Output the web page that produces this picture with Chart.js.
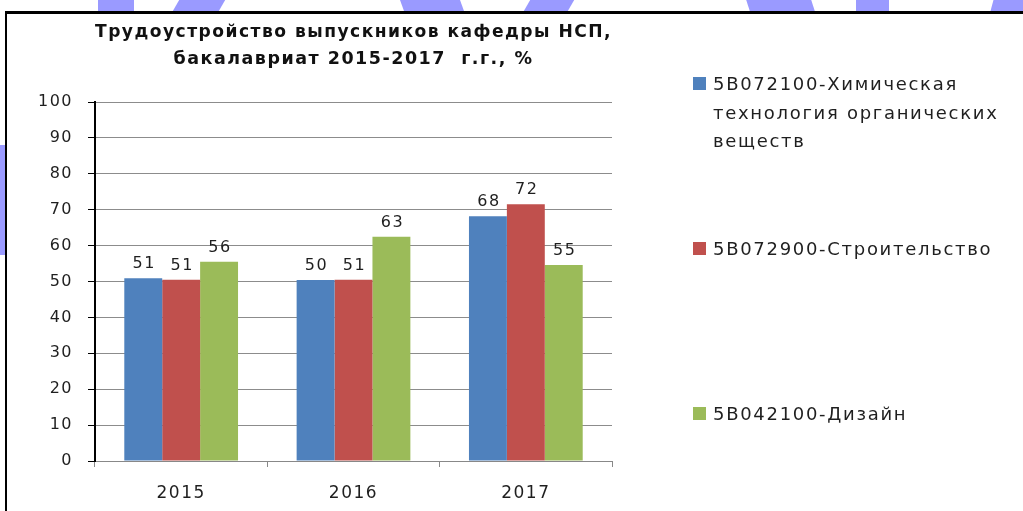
<!DOCTYPE html>
<html lang="ru">
<head>
  <meta charset="UTF-8" />
  <title>Трудоустройство выпускников кафедры НСП</title>
  <script src="https://cdn.jsdelivr.net/npm/chart.js"></script>
  <style>
    body {
      margin: 0;
      width: 1023px;
      height: 511px;
      overflow: hidden;
      background: #fff;
      position: relative;
      font-family: "DejaVu Sans", sans-serif;
    }

    .strip {
      position: absolute;
      left: 0;
      top: 0;
      width: 1023px;
      height: 11px;
      overflow: hidden;
    }

    .mark {
      position: absolute;
      top: 0;
      height: 11px;
      background: #9a9aff;
    }

    .side {
      position: absolute;
      left: 0;
      top: 145px;
      width: 5px;
      height: 110px;
      background: #9a9aff;
    }

    .frame {
      position: absolute;
      left: 5px;
      top: 11px;
      width: 1018px;
      height: 500px;
      box-sizing: border-box;
      background: #fff;
      border-top: 3px solid #000;
      border-left: 2px solid #000;
    }

    #wrap {
      position: absolute;
      left: 0;
      top: 0;
      width: 1023px;
      height: 511px;
    }

    .legend-item {
      position: absolute;
      left: 693px;
      display: flex;
      align-items: flex-start;
      font-size: 18px;
      line-height: 28.5px;
      letter-spacing: 1.7px;
      color: #1f1f1f;
    }

    .legend-item .box {
      width: 13px;
      height: 13px;
      margin-top: 7px;
      margin-right: 7px;
      flex: none;
    }

    .legend-item .txt {
      width: 305px;
    }
  </style>
</head>
<body>
  <!-- watermark bits peeking out above and left of the frame -->
  <div class="strip">
    <div class="mark" style="left:98px;width:36px"></div>
    <div class="mark" style="left:176px;width:46px;transform:skewX(-30deg)"></div>
    <div class="mark" style="left:402px;width:60px;transform:skewX(20deg)"></div>
    <div class="mark" style="left:527px;width:44px;transform:skewX(-30deg)"></div>
    <div class="mark" style="left:748px;width:65px;transform:skewX(18deg)"></div>
    <div class="mark" style="left:856px;width:33px"></div>
    <div class="mark" style="left:992px;width:40px;transform:skewX(-15deg)"></div>
  </div>
  <div class="side"></div>

  <div class="frame"></div>

  <div id="wrap">
    <canvas id="chart" width="1023" height="511"></canvas>
  </div>
  <div id="legend"></div>

  <script>
    const categories = ['2015', '2016', '2017'];
    const seriesNames = [
      '5B072100-Химическая технология органических веществ',
      '5B072900-Строительство',
      '5B042100-Дизайн'
    ];
    const chemValues = [50.9, 50.4, 68.2];
    const buildValues = [50.5, 50.5, 71.5];
    const designValues = [55.5, 62.5, 54.6];
    const seriesColors = ['#4f81bd', '#c0504d', '#9bbb59'];
    const titleLines = ['Трудоустройство выпускников кафедры НСП,', 'бакалавриат 2015-2017  г.г., %'];
    const yMin = 0;
    const yMax = 100;
    const yStep = 10;

    // the source picture is slightly stretched sideways, so space the letters out a bit
    const spacing = {
      id: 'spacing',
      beforeDraw(chart) { chart.ctx.letterSpacing = '1.5px'; }
    };

    // value labels above the bars
    const barLabels = {
      id: 'barLabels',
      afterDatasetsDraw(chart) {
        const ctx = chart.ctx;
        ctx.save();
        ctx.letterSpacing = '1.6px';
        ctx.font = '16px "DejaVu Sans"';
        ctx.fillStyle = '#1f1f1f';
        ctx.textAlign = 'center';
        ctx.textBaseline = 'middle';
        chart.data.datasets.forEach((ds, i) => {
          chart.getDatasetMeta(i).data.forEach((bar, j) => {
            ctx.fillText(String(Math.round(ds.data[j])), bar.x + 1, bar.y - 14);
          });
        });
        ctx.restore();
      }
    };

    const chart = new Chart(document.getElementById('chart'), {
      type: 'bar',
      data: {
        labels: categories,
        datasets: [chemValues, buildValues, designValues].map((vals, i) => ({
          label: seriesNames[i],
          data: vals,
          backgroundColor: seriesColors[i],
          borderWidth: 0,
          barPercentage: 1,
          categoryPercentage: 0.66
        }))
      },
      options: {
        responsive: false,
        animation: false,
        layout: { padding: { top: 19, left: 0, right: 411, bottom: 0 } },
        plugins: {
          legend: { display: false },
          tooltip: { enabled: false },
          title: {
            display: true,
            fullSize: false,
            text: titleLines,
            color: '#111',
            font: { family: 'DejaVu Sans', size: 17.5, weight: 'bold', lineHeight: 1.55 },
            padding: { top: 0, bottom: 28.75 }
          }
        },
        scales: {
          x: {
            afterFit: s => { s.height = 50; },
            grid: {
              offset: true,
              drawOnChartArea: false,
              color: '#888',
              tickLength: 6
            },
            border: { color: '#888', width: 1 },
            ticks: {
              color: '#1f1f1f',
              padding: 16,
              font: { family: 'DejaVu Sans', size: 17 }
            }
          },
          y: {
            min: yMin,
            max: yMax,
            afterFit: s => { s.width = 95; },
            grid: {
              color: '#8c8c8c',
              tickColor: '#000',
              tickLength: 7
            },
            border: { color: '#000', width: 2 },
            ticks: {
              stepSize: yStep,
              color: '#1f1f1f',
              padding: 15,
              font: { family: 'DejaVu Sans', size: 16 }
            }
          }
        }
      },
      plugins: [spacing, barLabels]
    });

    // legend on the right, spread down the side like the original
    const legendCenters = [84, 249, 414];
    const legendEl = document.getElementById('legend');
    chart.data.datasets.forEach((ds, i) => {
      const item = document.createElement('div');
      item.className = 'legend-item';
      item.style.top = (legendCenters[i] - 14) + 'px';
      const box = document.createElement('span');
      box.className = 'box';
      box.style.background = ds.backgroundColor;
      const txt = document.createElement('span');
      txt.className = 'txt';
      txt.textContent = ds.label;
      item.appendChild(box);
      item.appendChild(txt);
      legendEl.appendChild(item);
    });
  </script>
</body>
</html>
